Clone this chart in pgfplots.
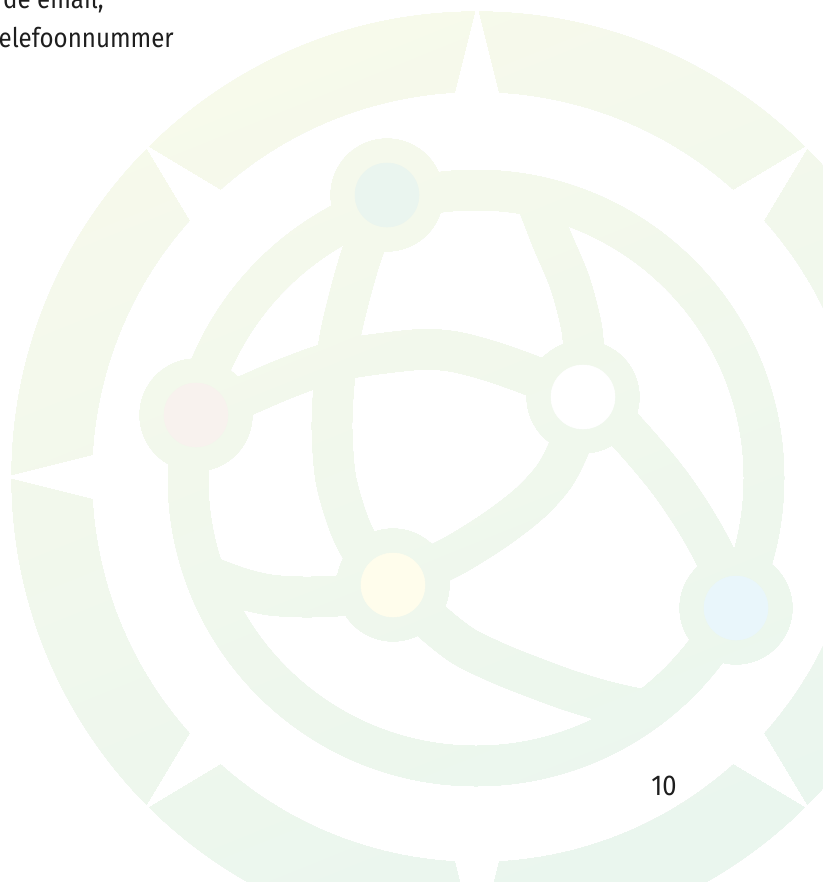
\documentclass[border=0pt]{standalone}
\usepackage{pgfplots}
\pgfplotsset{compat=1.18}
\usepackage{fontspec}
\setmainfont{Fira Sans}[FakeStretch=0.89]
\definecolor{gtop}{RGB}{248,250,235}
\definecolor{gbot}{RGB}{234,246,238}
\definecolor{ntop}{RGB}{234,245,239}
\definecolor{npink}{RGB}{248,242,238}
\definecolor{nyel}{RGB}{255,253,236}
\definecolor{nblue}{RGB}{233,246,251}
\definecolor{txt}{RGB}{30,30,30}
\begin{document}
\begin{tikzpicture}
\useasboundingbox (0,0) rectangle (616.5pt,661.5pt);
\begin{axis}[at={(-15pt,-15pt)}, anchor=south west, scale only axis,
  width=646.5pt, height=691.5pt,
  xmin=-20, xmax=842, ymin=-20, ymax=902, y dir=reverse,
  hide axis, clip marker paths=true]
% white page
\addplot[fill=white, draw=none] coordinates {(-40,-40)(862,-40)(862,922)(-40,922)} -- cycle;
% compass ring
\addplot[only marks, mark=*, mark size=348.75pt, mark options={draw=black, fill=black}] coordinates {(477,477)};
\addplot[only marks, mark=*, mark size=288.75pt, mark options={draw=white, fill=white}] coordinates {(477,477)};
% notches
\addplot[fill=white, draw=none] coordinates {(857,453.75)(947,476.25)(947,477.75)(857,500.25)} -- cycle;
\addplot[fill=white, draw=none] coordinates {(453.75,857)(476.25,947)(477.75,947)(500.25,857)} -- cycle;
\addplot[fill=white, draw=none] coordinates {(97,453.75)(7,476.25)(7,477.75)(97,500.25)} -- cycle;
\addplot[fill=white, draw=none] coordinates {(453.75,97)(476.25,7)(477.75,7)(500.25,97)} -- cycle;
\addplot[fill=white, draw=none] coordinates {(729.3,762.1)(808.8,809.8)(809.8,808.8)(762.1,729.3)} -- cycle;
\addplot[fill=white, draw=none] coordinates {(191.9,729.3)(144.2,808.8)(145.2,809.8)(224.7,762.1)} -- cycle;
\addplot[fill=white, draw=none] coordinates {(224.7,191.9)(145.2,144.2)(144.2,145.2)(191.9,224.7)} -- cycle;
\addplot[fill=white, draw=none] coordinates {(762.1,224.7)(809.8,145.2)(808.8,144.2)(729.3,191.9)} -- cycle;
% globe circle
\addplot[only marks, mark=o, mark size=216pt, mark options={draw=black, line width=30pt}] coordinates {(476,478)};
% arcs
\addplot[black, line width=30pt, smooth, line cap=round] coordinates {(387,195)(365,245)(352,287)(340,337)(334,385)(332,430)(336,480)(350,527)(368,560)(393,585)};
\addplot[black, line width=30pt, smooth, line cap=round] coordinates {(535,196)(552,240)(570,283)(582,330)(584,370)(583,397)(572,440)(555,475)(530,503)(495,530)(455,555)(420,572)(393,585)};
\addplot[black, line width=30pt, smooth, line cap=round] coordinates {(196,415)(240,398)(287,378)(340,360)(413,350)(450,351)(487,360)(530,375)(583,397)(615,420)(643,450)(670,483)(695,520)(717,560)(736,608)};
\addplot[black, line width=30pt, smooth, line cap=round] coordinates {(205,575)(240,588)(270,595)(303,597)(337,596)(365,592)(393,585)};
\addplot[black, line width=30pt, smooth, line cap=round] coordinates {(393,585)(430,620)(463,646)(500,664)(530,676)(565,689)(597,699)(625,706)(645,710)};
% node rings
\addplot[only marks, mark=*, mark size=42pt, mark options={draw=black, fill=black}] coordinates {(387,195)(196,415)(583,397)(393,585)(736,608)};
% gradient colouring of the logo
\addplot[draw=none, top color=gtop, bottom color=gbot, shading angle=22, blend mode=lighten] coordinates {(-40,-40)(862,-40)(862,922)(-40,922)} -- cycle;
% node centres
\addplot[only marks, mark=*, mark size=24pt, mark options={draw=ntop, fill=ntop}] coordinates {(387,195)};
\addplot[only marks, mark=*, mark size=24pt, mark options={draw=npink, fill=npink}] coordinates {(196,415)};
\addplot[only marks, mark=*, mark size=24pt, mark options={draw=white, fill=white}] coordinates {(583,397)};
\addplot[only marks, mark=*, mark size=24pt, mark options={draw=nyel, fill=nyel}] coordinates {(393,585)};
\addplot[only marks, mark=*, mark size=24pt, mark options={draw=nblue, fill=nblue}] coordinates {(736,608)};
% text
\node[anchor=base east, inner sep=0pt, text=txt, font=\fontsize{20.3}{24}\selectfont] at (axis cs:104,8) {de email,};
\node[anchor=base east, inner sep=0pt, text=txt, font=\fontsize{20.3}{24}\selectfont] at (axis cs:174,47) {telefoonnummer};
\node[anchor=base, inner sep=0pt, text=txt, font=\fontsize{21.5}{26}\selectfont] at (axis cs:664,795) {10};
\end{axis}
\end{tikzpicture}
\end{document}
